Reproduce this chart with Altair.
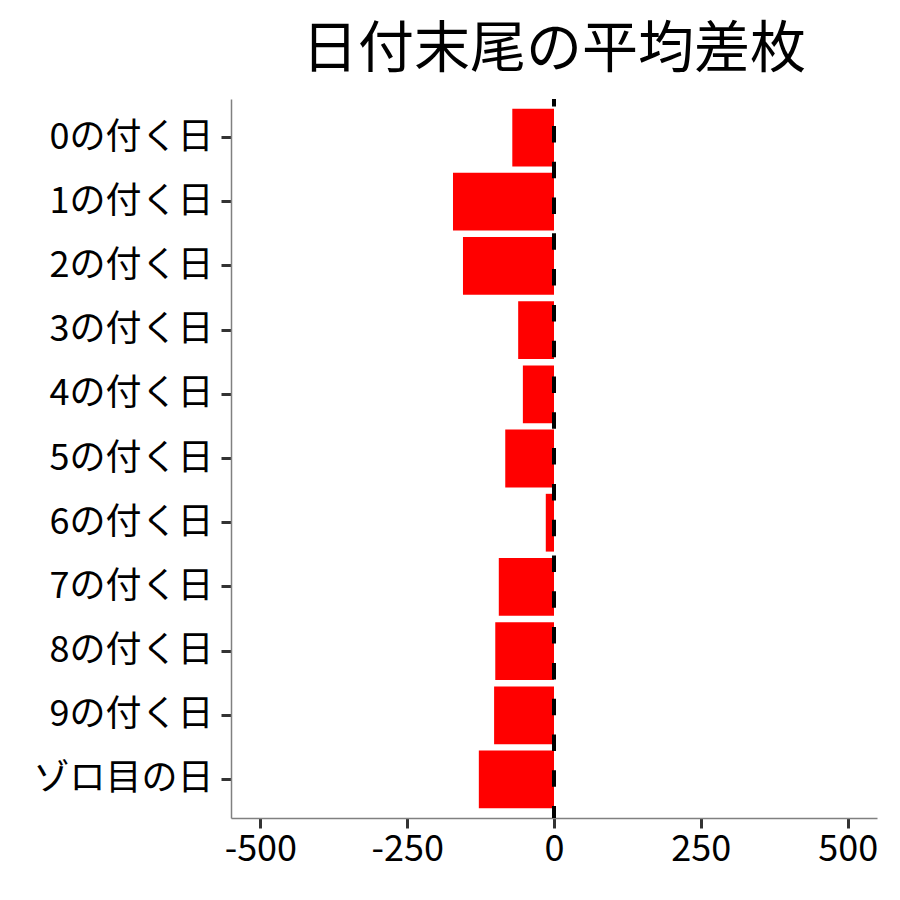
import altair as alt
import pandas as pd

categories = ["0の付く日", "1の付く日", "2の付く日", "3の付く日", "4の付く日",
              "5の付く日", "6の付く日", "7の付く日", "8の付く日", "9の付く日", "ゾロ目の日"]
values = [-71, -172, -155, -61, -53, -83, -14, -94, -100, -102, -128]
x_ticks = [-500, -250, 0, 250, 500]

df = pd.DataFrame({"cat": categories, "val": values})
zero = pd.DataFrame({"z": [0]})

FONT = "Noto Sans CJK JP"
W, H = 646, 719

xscale = alt.Scale(domain=[-550, 550], nice=False, zero=False)

bars = alt.Chart(df).mark_bar(color="#FF0000").encode(
    x=alt.X("val:Q", scale=xscale,
            axis=alt.Axis(values=x_ticks, title=None, grid=False,
                          labelExpr="toString(datum.value)",
                          labelFontSize=36, labelFont=FONT, labelColor="#000000",
                          labelPadding=4, tickSize=10, tickWidth=3, tickColor="#333333",
                          domainColor="#808080", domainWidth=1.5, labelFlush=False)),
    x2=alt.X2(datum=0),
    y=alt.Y("cat:N", sort=categories,
            scale=alt.Scale(paddingInner=0.1, paddingOuter=0.15),
            axis=alt.Axis(title=None, grid=False, labelLimit=400,
                          labelFontSize=36, labelFont=FONT, labelColor="#000000",
                          labelPadding=8, tickSize=10, tickWidth=3, tickColor="#333333",
                          domainColor="#808080", domainWidth=1.5)),
)

rule = alt.Chart(zero).mark_rule(color="#000000", strokeWidth=4,
                                 strokeDash=[16.5, 19.3], strokeDashOffset=8.9).encode(
    x=alt.X("z:Q", scale=xscale),
    y=alt.value(0),
    y2=alt.value(H),
)

chart = alt.layer(bars, rule).properties(
    width=W, height=H,
    background="white",
    title=alt.TitleParams("日付末尾の平均差枚", font=FONT, fontSize=56, fontWeight="normal",
                          color="#000000", anchor="middle", frame="group", offset=18),
    padding={"left": 24, "top": 14, "right": 10, "bottom": 5},
).configure_view(strokeWidth=0, stroke="transparent")

chart.save("out.html", embed_options={"renderer": "svg", "actions": False})
